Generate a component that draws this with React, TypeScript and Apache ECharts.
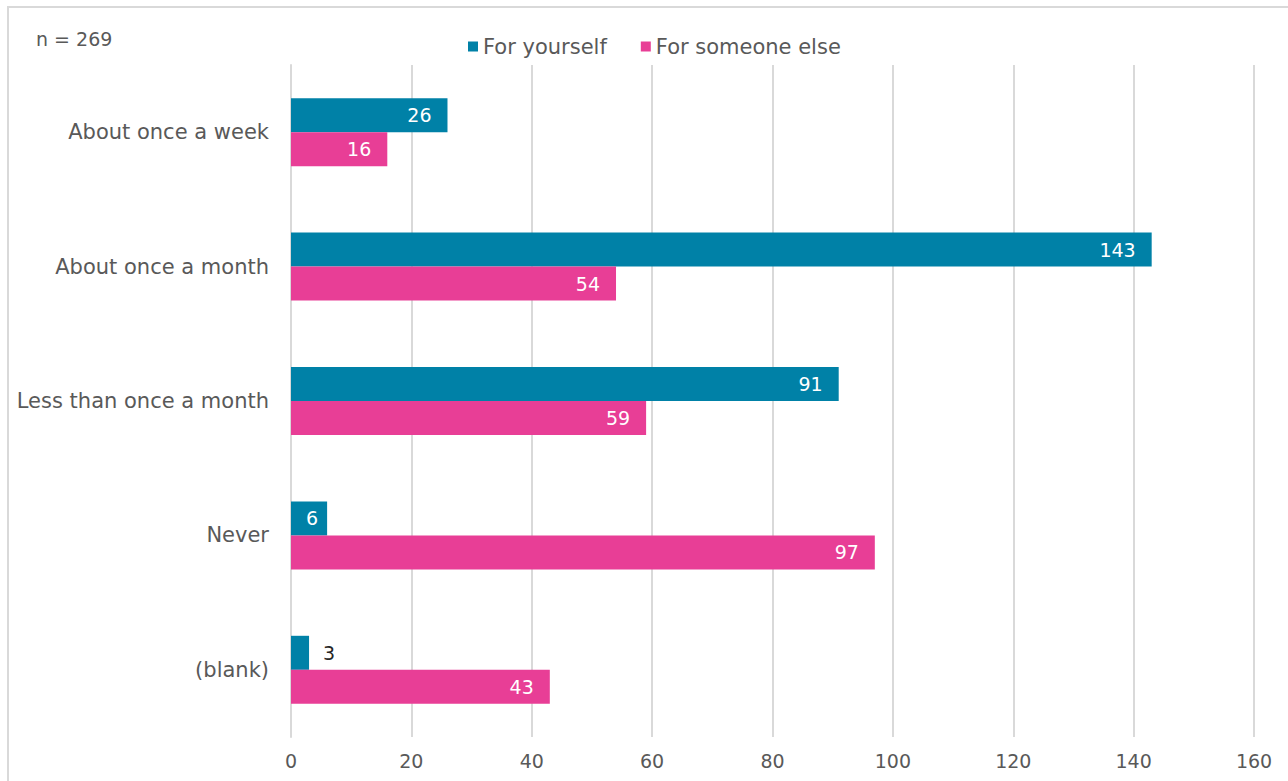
import React, { useEffect, useRef } from "react";
import * as echarts from "echarts";

const categories = ["About once a week", "About once a month", "Less than once a month", "Never", "(blank)"];
const forYourself = [26, 143, 91, 6, 3];
const forSomeoneElse = [16, 54, 59, 97, 43];
const seriesNames = ["For yourself", "For someone else"];
const FONT = "DejaVu Sans";

export default function App() {
  const ref = useRef<HTMLDivElement>(null);
  useEffect(() => {
    const chart = echarts.init(ref.current!, null, { renderer: "svg" });
    const labelFor = (v: number) =>
      v < 5
        ? { show: true, position: "right", color: "#262626", fontSize: 19, fontFamily: FONT, distance: 14 }
        : { show: true, position: "insideRight", color: "#ffffff", fontSize: 19, fontFamily: FONT, distance: v < 10 ? 9 : 16 };
    chart.setOption({
      animation: false,
      backgroundColor: "#ffffff",
      graphic: [
        { type: "rect", shape: { x: 8, y: 7, width: 1300, height: 800 }, style: { fill: "none", stroke: "#d9d9d9", lineWidth: 2 } },
        { type: "text", left: 36, top: 29, style: { text: "n = 269", fontSize: 19, fontFamily: FONT, fill: "#595959" } },
      ],
      legend: {
        top: 31,
        left: 463,
        itemWidth: 10,
        itemHeight: 10,
        itemGap: 34,
        itemTextGap: 7,
        icon: "rect",
        textStyle: { fontSize: 21, fontFamily: FONT, color: "#595959" },
        data: seriesNames,
      },
      grid: { left: 291, right: 34, top: 65, bottom: 44, containLabel: false },
      xAxis: {
        type: "value",
        min: 0,
        max: 160,
        interval: 20,
        axisLine: { show: false },
        axisTick: { show: false },
        splitLine: { show: true, lineStyle: { color: "#d9d9d9", width: 2 } },
        axisLabel: { fontSize: 19, fontFamily: FONT, color: "#595959", margin: 14 },
      },
      yAxis: {
        type: "category",
        inverse: true,
        data: categories,
        axisLine: { show: true, lineStyle: { color: "#d9d9d9", width: 2 } },
        axisTick: { show: false },
        axisLabel: { fontSize: 21, fontFamily: FONT, color: "#595959", margin: 22 },
      },
      series: [
        {
          name: seriesNames[0],
          type: "bar",
          barWidth: 34,
          barGap: "0%",
          itemStyle: { color: "#0081a7" },
          data: forYourself.map((v) => ({ value: v, label: labelFor(v) })),
        },
        {
          name: seriesNames[1],
          type: "bar",
          barWidth: 34,
          barGap: "0%",
          itemStyle: { color: "#e83e96" },
          data: forSomeoneElse.map((v) => ({ value: v, label: labelFor(v) })),
        },
      ],
    });
    return () => chart.dispose();
  }, []);
  return <div ref={ref} style={{ position: "absolute", left: 0, top: 0, width: 1288, height: 781 }} />;
}
